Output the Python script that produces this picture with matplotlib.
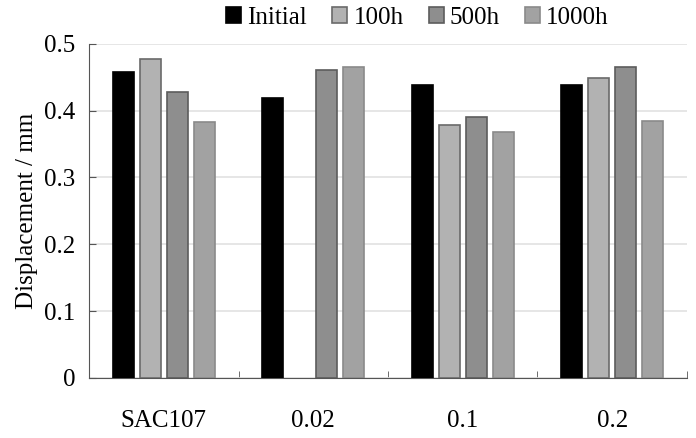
import numpy as np
import matplotlib
matplotlib.use('Agg')
import matplotlib.pyplot as plt

plt.rcParams['font.family'] = ['Liberation Serif', 'DejaVu Serif']

# Data (no 100h bar for 0.02)
categories = ['SAC107', '0.02', '0.1', '0.2']
series_names = ['Initial', '100h', '500h', '1000h']
initial = [0.458, 0.419, 0.439, 0.439]
h100 = [0.478, np.nan, 0.379, 0.449]
h500 = [0.428, 0.461, 0.391, 0.466]
h1000 = [0.383, 0.466, 0.368, 0.385]

series = [initial, h100, h500, h1000]
colors = ['#000000', '#b2b2b2', '#8e8e8e', '#a2a2a2']
edges = ['#000000', '#6a6a6a', '#5c5c5c', '#8a8a8a']

fig = plt.figure(figsize=(6.96, 4.38), dpi=100)
ax = fig.add_axes([0.128, 0.137, 0.859, 0.763])

x = np.arange(len(categories))
width = 0.14
step = 0.18
for i, vals in enumerate(series):
    ax.bar(x + (i - 1.5) * step, vals, width, color=colors[i], edgecolor=edges[i],
           linewidth=1.2, label=series_names[i], zorder=3)

ax.set_xlim(-0.5, len(categories) - 0.5)
ax.set_ylim(0, 0.5)
ax.set_yticks([0, 0.1, 0.2, 0.3, 0.4, 0.5])
ax.set_yticklabels(['0', '0.1', '0.2', '0.3', '0.4', '0.5'])
ax.set_xticks(x)
ax.set_xticklabels(categories)
ax.set_xticks(np.arange(len(categories) + 1) - 0.5, minor=True)
ax.tick_params(axis='x', which='major', length=0, pad=23, labelsize=18)
ax.tick_params(axis='x', which='minor', direction='in', length=5, color='#555555')
ax.tick_params(axis='y', direction='in', length=5, color='#555555', labelsize=18, pad=10)
ax.set_ylabel('Displacement / mm', fontsize=18, labelpad=4)
ax.grid(axis='y', color='#e2e2e2', linewidth=1.2, zorder=0)

ax.spines['top'].set_visible(False)
ax.spines['right'].set_visible(False)
ax.spines['left'].set_color('#555555')
ax.spines['bottom'].set_color('#555555')

fig.legend(loc='upper center', bbox_to_anchor=(0.60, 1.035), ncol=4, frameon=False,
           fontsize=18, handlelength=0.6, handleheight=0.6, handletextpad=0.25,
           columnspacing=1.0)

plt.savefig('out.png', dpi=100)
